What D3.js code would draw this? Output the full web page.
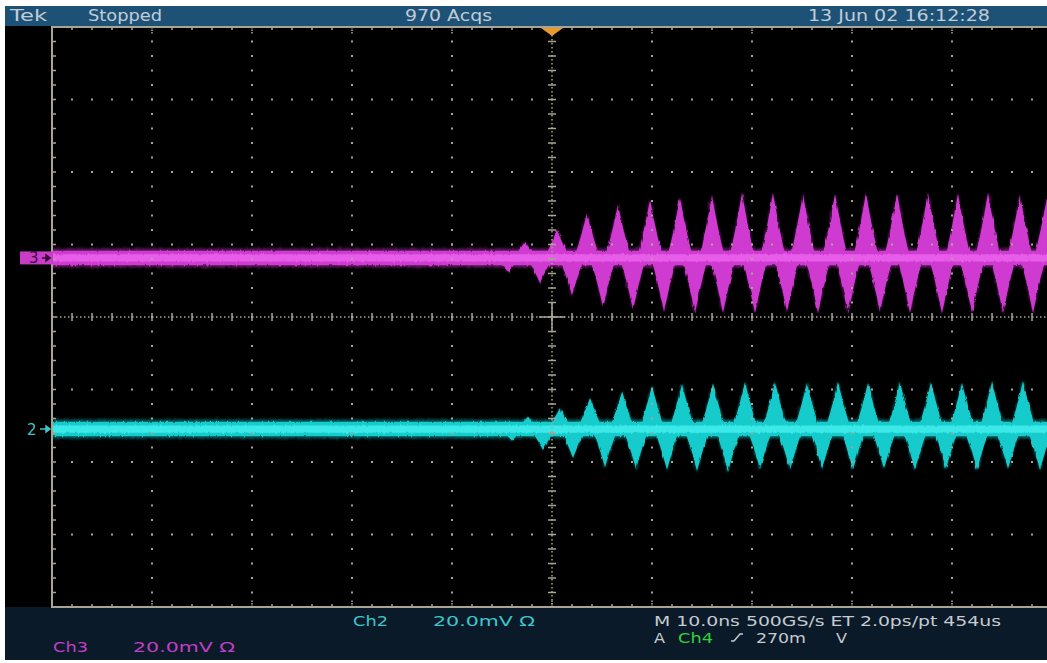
<!DOCTYPE html>
<html>
<head>
<meta charset="utf-8">
<script src="https://cdn.jsdelivr.net/npm/d3@7"></script>
<style>
  body { margin: 0; background: #fff; }
  text { font-family: "DejaVu Sans", "Liberation Sans", sans-serif; }
</style>
</head>
<body>
<div id="scope"></div>
<script>
// ---- DATA ----
// time axis in ns (10 ns/div, trigger at 0), vertical in mV (20 mV/div)
const timeDomain = [-50, 50];
const voltDomain = [-80, 80];

// channel ground offsets (mV on the screen scale)
const ch3Offset = 16.3;
const ch2Offset = -30.9;
const noiseHalf = 2.0;

// burst lobes: [time ns, peak mV relative to channel ground]
const ch3Lobes = [
  [-4.4, -3.9], [-2.7, 4.4], [-1.2, -6.9], [0.5, 7.7], [2.0, -10.2], [3.5, 12.4],
  [5.1, -13.5], [6.6, 14.6], [8.1, -14.3], [9.8, 16.0], [11.2, -14.9], [12.8, 16.6],
  [14.3, -15.2], [16.0, 17.1], [17.1, -15.2], [19.0, 17.9], [20.3, -15.2], [22.1, 17.9],
  [23.5, -14.9], [25.1, 17.7], [26.6, -15.2], [28.3, 17.7], [29.6, -15.4], [31.4, 17.9],
  [32.8, -14.9], [34.5, 17.9], [35.8, -15.2], [37.6, 17.9], [39.0, -15.4], [40.6, 17.7],
  [42.0, -15.2], [43.6, 17.9], [45.1, -15.2], [46.8, 17.4], [48.1, -15.2], [49.5, 16.6]
];
const ch2Lobes = [
  [-4.0, -3.2], [-2.4, 3.4], [-0.9, -5.8], [0.8, 5.8], [2.1, -8.0], [3.8, 8.6],
  [5.3, -10.5], [7.0, 10.2], [8.4, -11.0], [10.0, 11.9], [11.5, -11.3], [13.0, 12.4],
  [14.5, -11.6], [16.1, 12.7], [17.6, -11.9], [19.3, 13.0], [20.8, -11.0], [22.3, 13.0],
  [23.8, -11.3], [25.5, 12.7], [27.0, -11.0], [28.6, 13.0], [30.1, -11.3], [31.6, 12.7],
  [33.2, -11.0], [34.8, 13.0], [36.3, -11.3], [37.9, 13.0], [39.4, -11.0], [41.0, 12.7],
  [42.5, -11.3], [44.0, 13.0], [45.6, -11.0], [47.1, 13.2], [48.8, -11.3]
];

const headerLabels = ["Tek", "Stopped", "970 Acqs", "13 Jun 02 16:12:28"];
const ch2Label = ["Ch2", "20.0mV \u03a9"];
const ch3Label = ["Ch3", "20.0mV \u03a9"];
const timebaseLabel = "M 10.0ns 500GS/s ET 2.0ps/pt 454us";
const triggerLabel = ["A", "Ch4", "270m", "V"];

// ---- LAYOUT ----
const W = 1047, H = 663;
const plot = { left: 52, top: 27, right: 1052, bottom: 607 };
const gridColor = "#a8a496";
const lobeHalfWidth = 1.35; // ns

const svg = d3.select("#scope").append("svg")
  .attr("width", W)
  .attr("height", H);

const x = d3.scaleLinear().domain(timeDomain).range([plot.left, plot.right]);
const y = d3.scaleLinear().domain(voltDomain).range([plot.bottom, plot.top]);

const defs = svg.append("defs");
defs.append("clipPath").attr("id", "screen")
  .append("rect")
  .attr("x", plot.left).attr("y", plot.top)
  .attr("width", W - plot.left).attr("height", plot.bottom - plot.top);

const makeFuzz = function(id, freq, scale, blur, seed) {
  const f = defs.append("filter").attr("id", id)
    .attr("filterUnits", "userSpaceOnUse")
    .attr("x", 0).attr("y", 0).attr("width", W).attr("height", H);
  f.append("feTurbulence")
    .attr("type", "fractalNoise")
    .attr("baseFrequency", freq)
    .attr("numOctaves", 2)
    .attr("seed", seed)
    .attr("result", "n");
  f.append("feDisplacementMap")
    .attr("in", "SourceGraphic").attr("in2", "n")
    .attr("scale", scale)
    .attr("xChannelSelector", "R").attr("yChannelSelector", "G");
  f.append("feGaussianBlur").attr("stdDeviation", blur);
};
makeFuzz("fuzzWide", "0.6 0.1", 6, 1.0, 4);
makeFuzz("fuzz", "0.45 0.08", 3, 0.7, 7);

// panels
svg.append("rect").attr("x", 5).attr("y", 6).attr("width", W - 5).attr("height", 20).attr("fill", "#1d5276");
svg.append("rect").attr("x", 5).attr("y", 26).attr("width", W - 5).attr("height", plot.bottom - 26).attr("fill", "#000");
svg.append("rect").attr("x", 5).attr("y", plot.bottom).attr("width", W - 5).attr("height", 53).attr("fill", "#0b1a29");

// ---- TRACES ----
const envelope = function(lobes, t, sign) {
  let s = 0;
  lobes.forEach(([tc, a]) => {
    if (Math.sign(a) !== sign) return;
    const u = Math.abs(t - tc) / lobeHalfWidth;
    if (u < 1) s = Math.max(s, Math.abs(a) * Math.pow(1 - u, 1.2));
  });
  return s;
};

const samples = d3.range(timeDomain[0], timeDomain[1] + 0.001, 0.04);

const traceArea = d3.area()
  .x(d => x(d.t))
  .y0(d => y(d.lo))
  .y1(d => y(d.hi));

const drawTrace = function(lobes, offset, main, core) {
  const g = svg.append("g").attr("clip-path", "url(#screen)");
  const layer = function(noise, lobeScale, color, opacity, filter) {
    const pts = samples.map(t => ({
      t: t,
      hi: offset + Math.max(noise, lobeScale * envelope(lobes, t, 1)),
      lo: offset - Math.max(noise, lobeScale * envelope(lobes, t, -1))
    }));
    g.append("path")
      .attr("d", traceArea(pts))
      .attr("fill", color)
      .attr("opacity", opacity)
      .attr("filter", `url(#${filter})`);
  };
  layer(noiseHalf * 1.35, 1.03, main, 0.4, "fuzzWide");
  layer(noiseHalf, 1.0, main, 0.95, "fuzz");
  layer(noiseHalf * 0.5, 0, core, 0.7, "fuzz");
};

drawTrace(ch3Lobes, ch3Offset, "#d63ed8", "#f26cf4");
drawTrace(ch2Lobes, ch2Offset, "#14d2d2", "#4ef6f6");

// ---- GRATICULE ----
const grid = svg.append("g").attr("clip-path", "url(#screen)");
const xMajor = d3.range(-50, 51, 10);
const yMajor = d3.range(-80, 81, 20);
const xMinor = d3.range(-50, 50.01, 2);
const yMinor = d3.range(-80, 80.01, 4);

// dots along major lines
xMajor.filter(v => v !== -50 && v !== 0).forEach(v => {
  grid.selectAll(null).data(yMinor).enter().append("rect")
    .attr("x", x(v) - 1).attr("y", d => y(d) - 1)
    .attr("width", 2).attr("height", 2)
    .attr("fill", gridColor);
});
yMajor.filter(v => Math.abs(v) !== 80 && v !== 0).forEach(v => {
  grid.selectAll(null).data(xMinor).enter().append("rect")
    .attr("x", d => x(d) - 1).attr("y", y(v) - 1)
    .attr("width", 2).attr("height", 2)
    .attr("fill", gridColor);
});

// center lines
grid.append("line")
  .attr("x1", x(-50)).attr("x2", x(50)).attr("y1", y(0)).attr("y2", y(0))
  .attr("stroke", gridColor).attr("stroke-width", 1.5).attr("stroke-dasharray", "1.5 2.5");
grid.append("line")
  .attr("x1", x(0)).attr("x2", x(0)).attr("y1", y(80)).attr("y2", y(-80))
  .attr("stroke", gridColor).attr("stroke-width", 1.5).attr("stroke-dasharray", "1.5 2.5");
grid.selectAll(null).data(xMinor).enter().append("line")
  .attr("x1", d => x(d)).attr("x2", d => x(d))
  .attr("y1", y(0) - 4).attr("y2", y(0) + 4)
  .attr("stroke", gridColor).attr("stroke-width", 1.5);
grid.selectAll(null).data(yMinor).enter().append("line")
  .attr("x1", x(0) - 4).attr("x2", x(0) + 4)
  .attr("y1", d => y(d)).attr("y2", d => y(d))
  .attr("stroke", gridColor).attr("stroke-width", 1.5);
grid.append("line")
  .attr("x1", x(0) - 13).attr("x2", x(0) + 13).attr("y1", y(0)).attr("y2", y(0))
  .attr("stroke", gridColor).attr("stroke-width", 1.5);
grid.append("line")
  .attr("x1", x(0)).attr("x2", x(0)).attr("y1", y(0) - 14).attr("y2", y(0) + 14)
  .attr("stroke", gridColor).attr("stroke-width", 1.5);

// border and edge ticks
const border = svg.append("g").attr("stroke", gridColor).attr("stroke-width", 1.5);
border.append("path")
  .attr("d", `M${W},${plot.top}H${plot.left}V${plot.bottom}H${W}`)
  .attr("fill", "none").attr("stroke-width", 2);
border.selectAll(null).data(xMinor.slice(1)).enter().append("line")
  .attr("x1", d => x(d)).attr("x2", d => x(d))
  .attr("y1", plot.top).attr("y2", d => plot.top + (d % 10 === 0 ? 7 : 3))
  .attr("stroke-dasharray", d => d % 10 === 0 ? "1.5 1" : null);
border.selectAll(null).data(xMinor.slice(1)).enter().append("line")
  .attr("x1", d => x(d)).attr("x2", d => x(d))
  .attr("y1", plot.bottom).attr("y2", d => plot.bottom - (d % 10 === 0 ? 7 : 3))
  .attr("stroke-dasharray", d => d % 10 === 0 ? "1.5 1" : null);
border.selectAll(null).data(yMinor.slice(1, -1)).enter().append("line")
  .attr("x1", plot.left).attr("x2", plot.left + 4)
  .attr("y1", d => y(d)).attr("y2", d => y(d));

// trigger position marker
svg.append("path")
  .attr("d", `M${x(0) - 11},${plot.top + 1}H${x(0) + 11}L${x(0)},${plot.top + 9}Z`)
  .attr("fill", "#e89a2c");

// channel ground markers
svg.append("rect")
  .attr("x", 20).attr("y", y(ch3Offset) - 6.5)
  .attr("width", 33).attr("height", 13)
  .attr("fill", "#c83cc8");
svg.append("text")
  .attr("x", 29).attr("y", y(ch3Offset) + 5.5)
  .attr("font-size", 15)
  .attr("fill", "#3a0a3a")
  .text("3");
svg.append("path")
  .attr("d", `M42,${y(ch3Offset)}H47M46,${y(ch3Offset) - 3}L50,${y(ch3Offset)}L46,${y(ch3Offset) + 3}Z`)
  .attr("stroke", "#3a0a3a").attr("fill", "#3a0a3a").attr("stroke-width", 1.5);

svg.append("text")
  .attr("x", 27).attr("y", y(ch2Offset) + 6)
  .attr("font-size", 15)
  .attr("fill", "#3fc4c8")
  .text("2");
svg.append("path")
  .attr("d", `M40,${y(ch2Offset)}H47M46,${y(ch2Offset) - 3}L50,${y(ch2Offset)}L46,${y(ch2Offset) + 3}Z`)
  .attr("stroke", "#3fc4c8").attr("fill", "#3fc4c8").attr("stroke-width", 1.5);

// ---- TEXT READOUTS ----
const label = function(txt, px, py, color, len, size) {
  const t = svg.append("text")
    .attr("x", px).attr("y", py)
    .attr("font-size", size || 14)
    .attr("fill", color)
    .text(txt);
  if (len) t.attr("textLength", len).attr("lengthAdjust", "spacingAndGlyphs");
  return t;
};

const headColor = "#c3ccd6";
label(headerLabels[0], 10, 21, headColor, 37, 16);
label(headerLabels[1], 88, 21, headColor, 74, 15);
label(headerLabels[2], 405, 21, headColor, 87, 15);
label(headerLabels[3], 808, 21, headColor, 182, 15);

const ch2Color = "#3cc6cc", ch3Color = "#c13fc6", infoColor = "#c6cbd0";
label(ch2Label[0], 353, 626, ch2Color, 35);
label(ch2Label[1], 433, 626, ch2Color, 102);
label(ch3Label[0], 53, 652, ch3Color, 35);
label(ch3Label[1], 133, 652, ch3Color, 102);

label(timebaseLabel, 654, 626, infoColor, 347);
label(triggerLabel[0], 654, 643, infoColor, 11);
label(triggerLabel[1], 678, 643, "#2fd23a", 35);
svg.append("path")
  .attr("d", "M731,641H734L740,634H743")
  .attr("fill", "none").attr("stroke", infoColor).attr("stroke-width", 1.5);
label(triggerLabel[2], 756, 643, infoColor, 50);
label(triggerLabel[3], 836, 643, infoColor, 11);
</script>
</body>
</html>
